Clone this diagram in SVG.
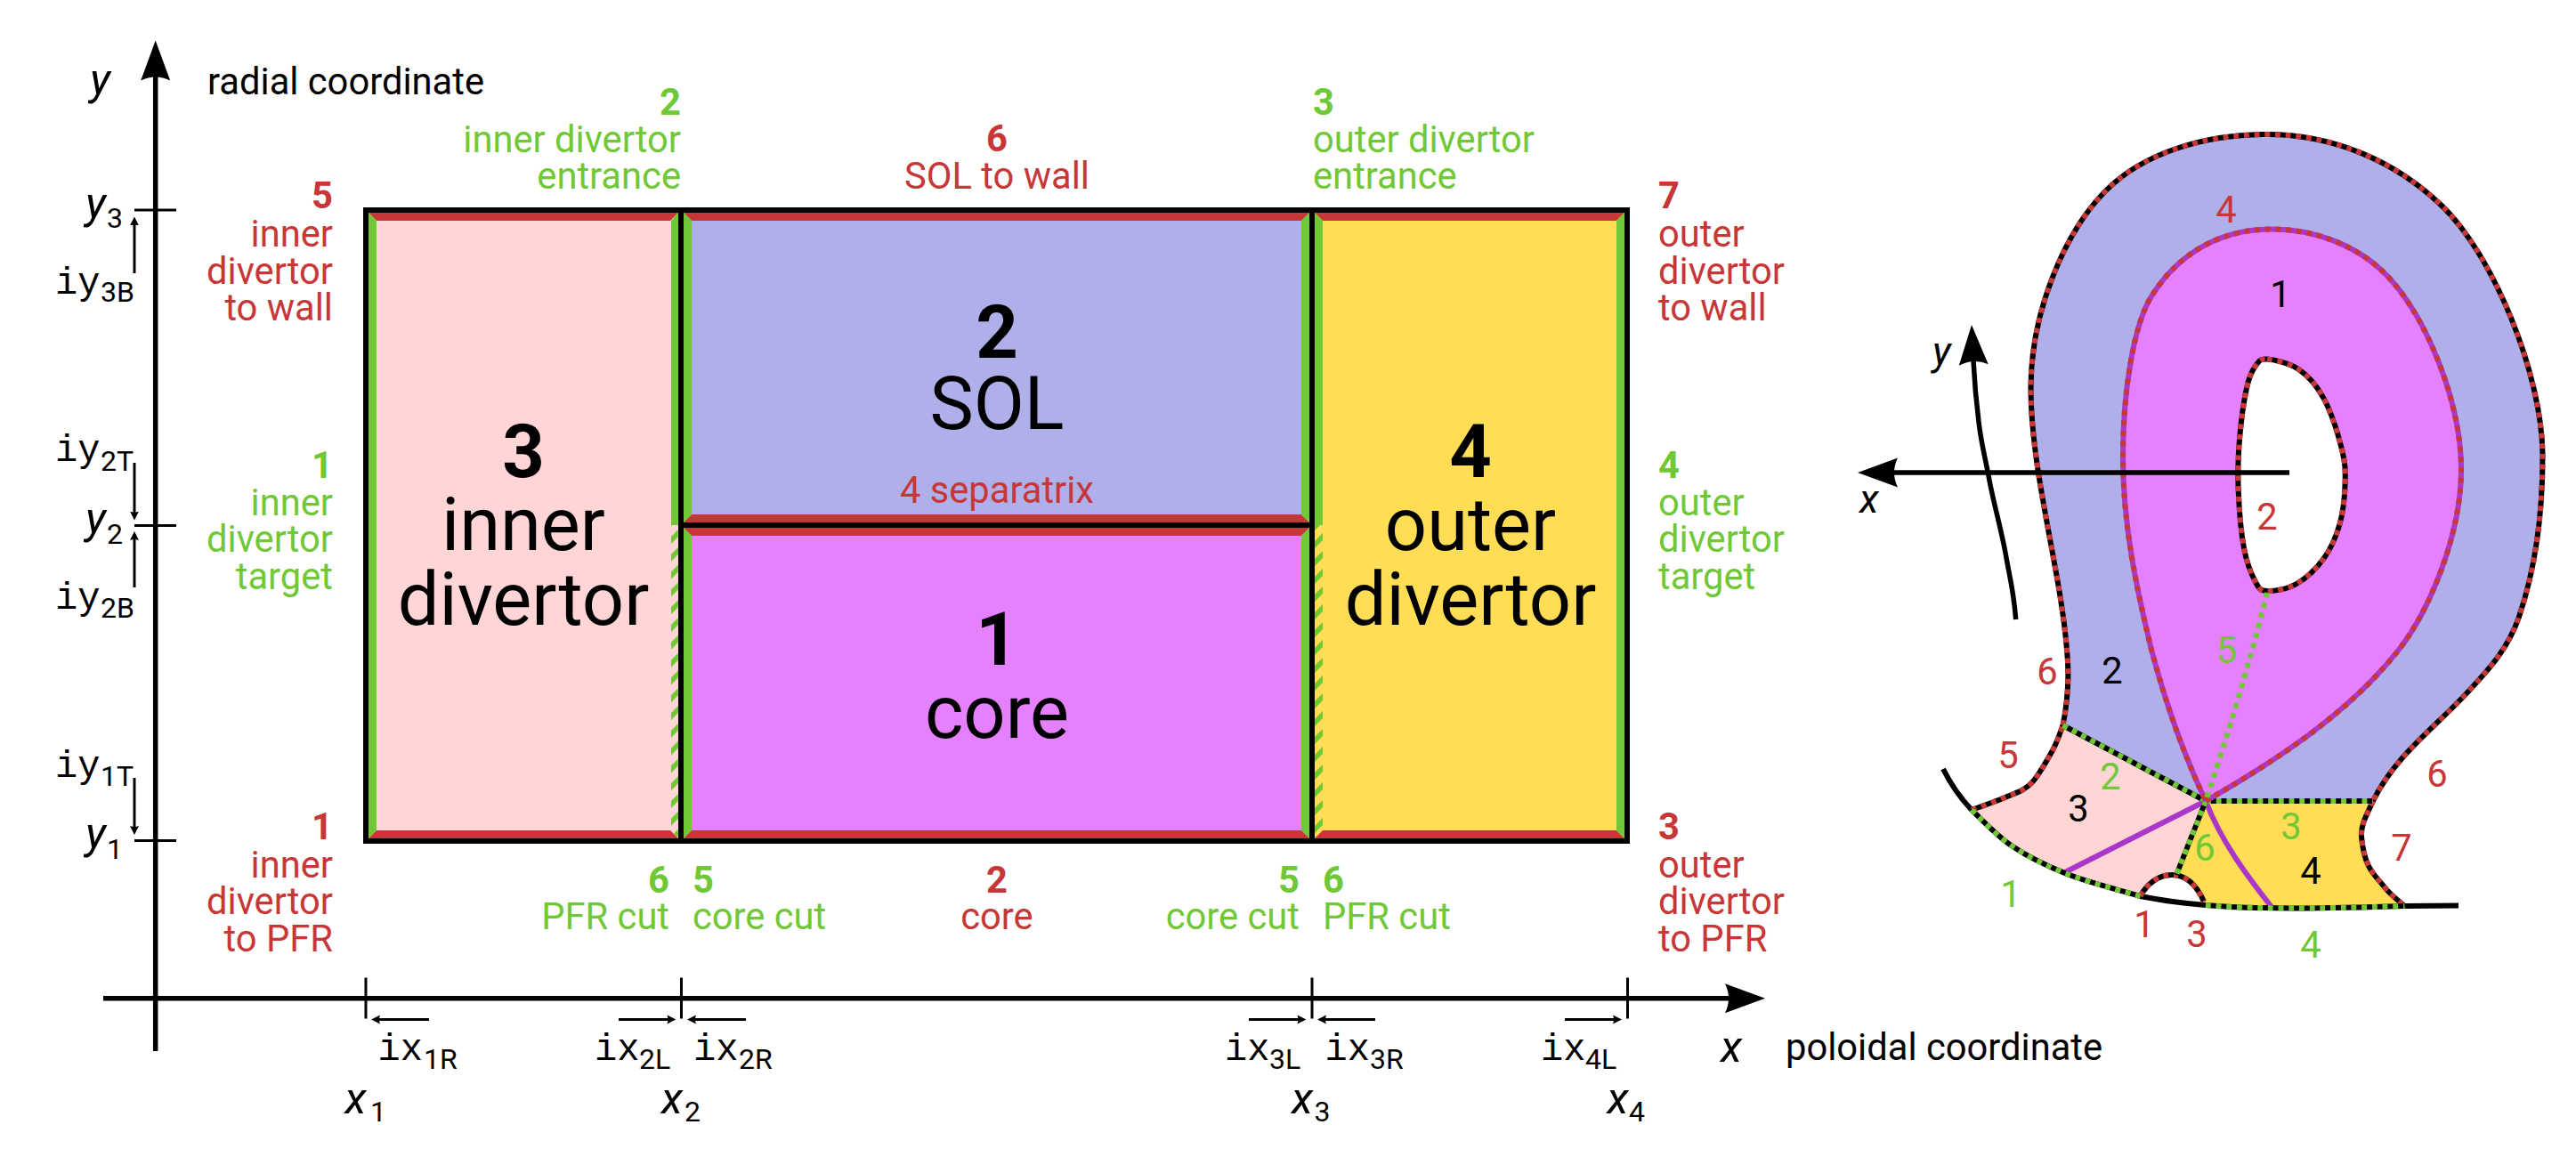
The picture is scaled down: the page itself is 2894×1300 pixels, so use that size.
<svg xmlns="http://www.w3.org/2000/svg" width="2894" height="1300" viewBox="0 0 2894 1300">
<style>
text{font-family:Roboto,"Liberation Sans",sans-serif;font-size:41.7px;fill:#000}
.r,.r text{fill:#c83737}.g,.g text{fill:#71c837}
.e{text-anchor:end}.m{text-anchor:middle}
.b{font-weight:700}
.big{font-size:83px;text-anchor:middle}
.i{font-style:italic;font-size:50px}
.i2{font-style:italic;font-size:45px}
.sub{font-size:32px;font-family:Roboto,"Liberation Sans",sans-serif;font-style:normal}
.t{font-family:"Liberation Mono","DejaVu Sans Mono",monospace;font-size:42px}
.tk{fill:none;stroke:#000;stroke-width:3}
.sa{fill:none;stroke:#000;stroke-width:3;marker-end:url(#sh)}
.ba{fill:none;stroke:#000;stroke-width:5.5;marker-end:url(#bh)}
.line{fill:none;stroke-width:6}
.k{stroke:#000}.pu{stroke:#ab37c8}
.dr{stroke:#c83737;stroke-dasharray:5.85 5.85}
.dg{stroke:#71c837;stroke-dasharray:5.85 5.85}
.red{fill:#c83737}.grn{fill:#71c837}
</style>
<defs>
<marker id="bh" markerUnits="userSpaceOnUse" viewBox="0 -18 46 36" markerWidth="46" markerHeight="36" refX="5" refY="0" orient="auto"><path d="M0,-16.5 L45,0 L0,16.5 Q8,0 0,-16.5Z"/></marker>
<marker id="sh" markerUnits="userSpaceOnUse" viewBox="0 -6 11 12" markerWidth="11" markerHeight="12" refX="2" refY="0" orient="auto"><path d="M0,-5 L10,0 L0,5 Q2,0 0,-5Z"/></marker>
<pattern id="h1" patternUnits="userSpaceOnUse" x="754" y="595" width="8" height="19.8"><polygon class="grn" points="8,0 0,8 0,16 8,8"/></pattern>
<pattern id="h2" patternUnits="userSpaceOnUse" x="1477" y="599" width="9" height="20"><polygon class="grn" points="9,0 0,9 0,17 9,8"/></pattern>
<path id="wall" d="M2317.5 815C2323 788 2325 760 2322 730C2315 640 2281.500 530 2281.500 436C2281.500 350 2320 260 2366 214C2410 170 2480 151 2547 151C2620 151 2690 180 2743 231C2800 285 2856.500 420 2856.500 513C2856.500 580 2848 640 2830 693C2818 728 2798 750 2773 777C2735 818 2690 850 2666 900"/>
<path id="sep" d="M2478 900C2560 853 2640 800 2695 730C2730 685 2765 600 2765 528C2765 450 2725 355 2682 310C2648 275 2600 257.500 2552 257.500C2500 257.500 2450 280 2417 333C2397 365 2385 440 2385 513C2385 590 2400 660 2417 730C2433 790 2452 845 2478 900"/>
<path id="hole" d="M2547 403.6C2555.1 404.3 2571.9 407.7 2582.5 415C2593.1 422.3 2602.5 432.6 2610.6 447.6C2618.7 462.6 2627 489.1 2631 505C2635 520.9 2635 529 2634.6 543C2634.2 557 2632.5 574.9 2628.5 589C2624.5 603.1 2618.7 616.3 2610.6 627.5C2602.5 638.7 2590.6 649.9 2580 656C2569.4 662.1 2554.7 664.3 2547 664C2539.3 663.7 2538.3 662 2534 654C2529.7 646 2524.2 633.2 2521 616C2517.8 598.8 2515.5 571.4 2514.7 551C2513.9 530.6 2514.4 512.8 2516 493.6C2517.6 474.4 2521 449.8 2524 436C2527 422.2 2530.2 416.4 2534 411C2537.8 405.6 2538.9 402.9 2547 403.6Z"/>
<path id="b5" d="M2215 910C2221.7 907.5 2243.8 900 2255 895C2266.2 890 2273.5 888.7 2282 880C2290.5 871.3 2300.1 853.8 2306 843C2311.9 832.2 2315.6 819.7 2317.5 815"/>
<path id="b7" d="M2666 900C2659 915 2652 927 2653 940C2654 952 2656 963 2661 973C2666 983 2672 988 2679 997C2686 1006 2695 1012 2701.4 1018"/>
<path id="arc" d="M2404.5 1007C2412 993 2425 983 2440 983C2456 983 2468 995 2476 1013"/>
<path id="t1" d="M2215 910C2222.4 916.7 2241.7 938 2259.5 950C2277.3 962 2297.8 972.5 2322 982C2346.2 991.5 2390.8 1002.8 2404.5 1007"/>
<path id="t4" d="M2478 1017C2520 1021 2600 1021.5 2701.4 1018"/>
<path id="e2" d="M2317.5 815L2478 900"/>
<path id="e3" d="M2478 900L2666 900"/>
<path id="c6" d="M2478 900L2445 983"/>
</defs>

<g id="logical-map">
<g id="region-inner-divertor">
<rect x="414" y="239" width="348" height="703" fill="#ffd5d5"/>
<polygon class="red" points="414,239 762,239 753,248 423,248"/>
<polygon class="red" points="414,942 762,942 753,933 423,933"/>
<polygon class="grn" points="414,239 423,248 423,933 414,942"/>
<polygon class="grn" points="762,239 754,248 754,590 762,590"/>
<polygon fill="url(#h1)" points="762,590 754,590 754,933 762,942"/>
</g>
<g id="region-sol">
<rect x="768" y="239" width="703" height="348" fill="#afafe9"/>
<polygon class="red" points="768,239 1471,239 1462,248 777,248"/>
<polygon class="red" points="768,587 1471,587 1462,578 777,578"/>
<polygon class="grn" points="768,239 777,248 777,578 768,587"/>
<polygon class="grn" points="1471,239 1462,248 1462,578 1471,587"/>
</g>
<g id="region-core">
<rect x="768" y="593" width="703" height="349" fill="#e580ff"/>
<polygon class="red" points="768,593 1471,593 1462,602 777,602"/>
<polygon class="red" points="768,942 1471,942 1462,933 777,933"/>
<polygon class="grn" points="768,593 777,602 777,933 768,942"/>
<polygon class="grn" points="1471,593 1462,602 1462,933 1471,942"/>
</g>
<g id="region-outer-divertor">
<rect x="1477" y="239" width="348" height="703" fill="#ffdd55"/>
<polygon class="red" points="1477,239 1825,239 1816,248 1486,248"/>
<polygon class="red" points="1477,942 1825,942 1816,933 1486,933"/>
<polygon class="grn" points="1825,239 1816,248 1816,933 1825,942"/>
<polygon class="grn" points="1477,239 1486,248 1486,590 1477,590"/>
<polygon fill="url(#h2)" points="1477,590 1486,590 1486,933 1477,942"/>
</g>
<g id="map-frame" fill="none" stroke="#000" stroke-width="6">
<rect x="411" y="236" width="1417" height="709"/>
<path d="M765 236V945M1474 236V945M765 590H1474"/>
</g>
</g>

<g id="connectors">
<path class="ba" d="M174.700 1181V85.600"/>
<path class="ba" d="M116 1121.800H1943"/>
<path class="tk" d="M151 236H198M151 590.500H198M151 944.500H198M411 1098.500V1144.500M765.500 1098.500V1144.500M1474 1098.500V1144.500M1828.500 1098.500V1144.500"/>
<path class="sa" d="M151 307V251.400"/>
<path class="sa" d="M151 520V576.600"/>
<path class="sa" d="M151 660V605"/>
<path class="sa" d="M151 874V930"/>
<path class="sa" d="M482 1145.500H425"/>
<path class="sa" d="M695 1145.500H751.400"/>
<path class="sa" d="M838 1145.500H780"/>
<path class="sa" d="M1403 1145.500H1459.400"/>
<path class="sa" d="M1545 1145.500H1488"/>
<path class="sa" d="M1758 1145.500H1814"/>
</g>

<g id="cross-section">
<path id="fill-sol" fill="#afafe9" d="M2317.5 815C2323 788 2325 760 2322 730C2315 640 2281.500 530 2281.500 436C2281.500 350 2320 260 2366 214C2410 170 2480 151 2547 151C2620 151 2690 180 2743 231C2800 285 2856.500 420 2856.500 513C2856.500 580 2848 640 2830 693C2818 728 2798 750 2773 777C2735 818 2690 850 2666 900L2478 900Z"/>
<use href="#sep" fill="#e580ff"/>
<use href="#hole" fill="#fff"/>
<path id="fill-inner" fill="#ffd5d5" d="M2215 910C2221.7 907.5 2243.8 900 2255 895C2266.2 890 2273.5 888.7 2282 880C2290.5 871.3 2300.1 853.8 2306 843C2311.9 832.2 2315.6 819.7 2317.5 815L2478 900L2445 983C2432 983 2412 993 2404.5 1007C2390.8 1002.800 2346.2 991.500 2322 982C2297.8 972.500 2277.3 962 2259.5 950C2241.7 938 2222.4 916.7 2215 910Z"/>
<path id="fill-outer" fill="#ffdd55" d="M2478 900L2666 900C2659 915 2652 927 2653 940C2654 952 2656 963 2661 973C2666 983 2672 988 2679 997C2686 1006 2695 1012 2701.400 1018C2600 1021.500 2520 1021 2478 1017L2476 1013C2470 998 2458 985 2445 983Z"/>
<g class="line" fill="none">
<path class="k" d="M2183 864Q2196 890 2215 910M2404.500 1007Q2440 1014 2478 1017M2701.400 1018L2762 1017.500"/>
<path class="pu" d="M2478 900L2320 980M2478 900C2495 945 2525 985 2552 1019"/>
<use href="#wall" class="k"/><use href="#wall" class="dr"/>
<use href="#hole" class="k"/><use href="#hole" class="dr"/>
<use href="#b5" class="k"/><use href="#b5" class="dr"/>
<use href="#b7" class="k"/><use href="#b7" class="dr"/>
<use href="#arc" class="k"/><use href="#arc" class="dr"/>
<use href="#t1" class="k"/><use href="#t1" class="dg"/>
<use href="#t4" class="k"/><use href="#t4" class="dg"/>
<use href="#e2" class="k"/><use href="#e2" class="dg"/>
<use href="#e3" class="k"/><use href="#e3" class="dg"/>
<use href="#c6" class="k"/><use href="#c6" class="dg"/>
<use href="#sep" class="pu"/><use href="#sep" class="dr"/>
<path class="dg" d="M2547 666C2535 715 2513 795 2478 900"/>
</g>
<path class="ba" stroke-width="6" d="M2572 531H2127"/>
<path class="ba" d="M2264.700 696C2262 662 2258 650 2253.500 624C2249 598 2241 570 2235.600 543C2230 512 2226 500 2223 474C2220 450 2218 425 2217 405"/>
<g>
<text class="m" x="2562" y="345">1</text>
<text class="m" x="2373" y="768">2</text>
<text class="m" x="2335" y="923">3</text>
<text class="m" x="2596" y="993">4</text>
</g>
<g class="r">
<text class="m" x="2501" y="249.500">4</text>
<text class="m" x="2547" y="595">2</text>
<text class="m" x="2300" y="769">6</text>
<text class="m" x="2256" y="863">5</text>
<text class="m" x="2409" y="1053">1</text>
<text class="m" x="2468" y="1064">3</text>
<text class="m" x="2698" y="967">7</text>
<text class="m" x="2738" y="884">6</text>
</g>
<g class="g">
<text class="m" x="2501.500" y="745">5</text>
<text class="m" x="2371" y="887">2</text>
<text class="m" x="2259" y="1019">1</text>
<text class="m" x="2596" y="1076">4</text>
<text class="m" x="2477" y="967">6</text>
<text class="m" x="2574" y="943">3</text>
</g>
<text class="i2" x="2171" y="410">y</text>
<text class="i2" x="2089" y="576">x</text>
</g>

<g id="axis-labels">
<text class="i" x="101" y="106">y</text>
<text x="233" y="105.500">radial coordinate</text>
<text class="i" x="1933" y="1193">x</text>
<text x="2006" y="1191">poloidal coordinate</text>
<text class="i" x="96" y="244.500">y<tspan class="sub" x="120" y="256">3</tspan></text>
<text class="i" x="96" y="599">y<tspan class="sub" x="120" y="610.500">2</tspan></text>
<text class="i" x="96" y="953">y<tspan class="sub" x="120" y="965">1</tspan></text>
<text class="i" x="387.500" y="1251">x<tspan class="sub" x="416" y="1260">1</tspan></text>
<text class="i" x="743" y="1251">x<tspan class="sub" x="769" y="1260">2</tspan></text>
<text class="i" x="1451" y="1251">x<tspan class="sub" x="1476.500" y="1260">3</tspan></text>
<text class="i" x="1805.500" y="1251">x<tspan class="sub" x="1830" y="1260">4</tspan></text>
<text class="t" x="62" y="329.500">iy<tspan class="sub" x="113" y="339">3B</tspan></text>
<text class="t" x="62" y="518">iy<tspan class="sub" x="113" y="528.500">2T</tspan></text>
<text class="t" x="62" y="684">iy<tspan class="sub" x="113" y="693.500">2B</tspan></text>
<text class="t" x="62" y="873">iy<tspan class="sub" x="113" y="883">1T</tspan></text>
<text class="t" x="424.500" y="1191">ix<tspan class="sub" x="476" y="1201">1R</tspan></text>
<text class="t" x="668" y="1191">ix<tspan class="sub" x="718" y="1201">2L</tspan></text>
<text class="t" x="779" y="1191">ix<tspan class="sub" x="830" y="1201">2R</tspan></text>
<text class="t" x="1376" y="1191">ix<tspan class="sub" x="1426" y="1201">3L</tspan></text>
<text class="t" x="1488.500" y="1191">ix<tspan class="sub" x="1539" y="1201">3R</tspan></text>
<text class="t" x="1731" y="1191">ix<tspan class="sub" x="1781" y="1201">4L</tspan></text>
</g>

<g id="region-labels">
<text class="big"><tspan class="b" x="588" y="536">3</tspan><tspan x="588" y="618">inner</tspan><tspan x="588" y="702">divertor</tspan></text>
<text class="big"><tspan class="b" x="1120" y="402">2</tspan><tspan x="1120" y="482">SOL</tspan></text>
<text class="big"><tspan class="b" x="1120" y="747">1</tspan><tspan x="1120" y="829">core</tspan></text>
<text class="big"><tspan class="b" x="1652" y="536">4</tspan><tspan x="1652" y="618">outer</tspan><tspan x="1652" y="702">divertor</tspan></text>
</g>

<g id="boundary-labels">
<g class="r">
<text class="e"><tspan class="b" x="374" y="234">5</tspan><tspan x="374" y="277">inner</tspan><tspan x="374" y="318.500">divertor</tspan><tspan x="374" y="360">to wall</tspan></text>
<text class="e"><tspan class="b" x="374" y="943">1</tspan><tspan x="374" y="985.500">inner</tspan><tspan x="374" y="1027">divertor</tspan><tspan x="374" y="1068.500">to PFR</tspan></text>
<text><tspan class="b" x="1863" y="234">7</tspan><tspan x="1863" y="277">outer</tspan><tspan x="1863" y="318.500">divertor</tspan><tspan x="1863" y="360">to wall</tspan></text>
<text><tspan class="b" x="1863" y="943">3</tspan><tspan x="1863" y="985.500">outer</tspan><tspan x="1863" y="1027">divertor</tspan><tspan x="1863" y="1068.500">to PFR</tspan></text>
<text class="m"><tspan class="b" x="1120" y="170">6</tspan><tspan x="1120" y="212">SOL to wall</tspan></text>
<text class="m"><tspan class="b" x="1120" y="1002.500">2</tspan><tspan x="1120" y="1044">core</tspan></text>
<text class="m" x="1120" y="565">4 separatrix</text>
</g>
<g class="g">
<text class="e"><tspan class="b" x="765" y="128.500">2</tspan><tspan x="765" y="171">inner divertor</tspan><tspan x="765" y="212">entrance</tspan></text>
<text><tspan class="b" x="1475" y="128.500">3</tspan><tspan x="1475" y="171">outer divertor</tspan><tspan x="1475" y="212">entrance</tspan></text>
<text class="e"><tspan class="b" x="374" y="537">1</tspan><tspan x="374" y="578.500">inner</tspan><tspan x="374" y="620">divertor</tspan><tspan x="374" y="661.500">target</tspan></text>
<text><tspan class="b" x="1863" y="537">4</tspan><tspan x="1863" y="578.500">outer</tspan><tspan x="1863" y="620">divertor</tspan><tspan x="1863" y="661.500">target</tspan></text>
<text class="e"><tspan class="b" x="752" y="1002.500">6</tspan><tspan x="752" y="1044">PFR cut</tspan></text>
<text><tspan class="b" x="778" y="1002.500">5</tspan><tspan x="778" y="1044">core cut</tspan></text>
<text class="e"><tspan class="b" x="1460" y="1002.500">5</tspan><tspan x="1460" y="1044">core cut</tspan></text>
<text><tspan class="b" x="1486" y="1002.500">6</tspan><tspan x="1486" y="1044">PFR cut</tspan></text>
</g>
</g>
</svg>
